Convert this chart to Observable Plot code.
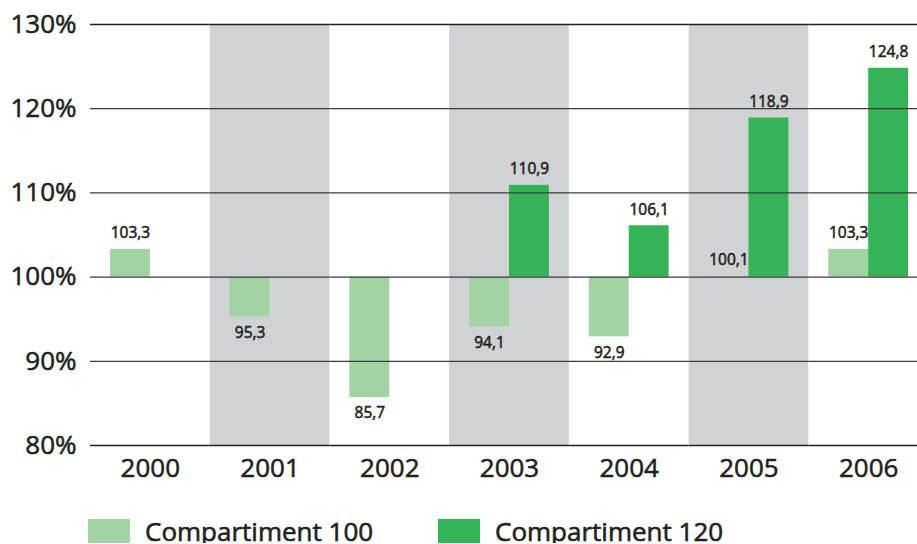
<!DOCTYPE html>
<html>
<head>
<meta charset="utf-8">
<script src="https://cdn.jsdelivr.net/npm/d3@7"></script>
<script src="https://cdn.jsdelivr.net/npm/@observablehq/plot@0.6"></script>
<style>
  html, body { margin: 0; padding: 0; background: #fff; overflow: hidden; }
  #chart svg { overflow: hidden; display: block; }
  #chart svg text { stroke: #231f20; stroke-width: 0.55px; paint-order: stroke; }
  .legend { display: flex; align-items: center; height: 24px; margin-top: 19px; padding-left: 88px;
    font-family: "Open Sans", sans-serif; font-weight: 400; font-size: 26px; color: #231f20; line-height: 24px;
    -webkit-text-stroke: 0.6px #231f20; }
  .item { display: flex; align-items: center; }
  .sw { width: 42px; height: 24px; margin-right: 15px; }
</style>
</head>
<body>
<div id="chart"></div>
<div class="legend">
  <div class="item" style="width:350px"><div class="sw" style="background:#a3d3a4"></div><span>Compartiment 100</span></div>
  <div class="item"><div class="sw" style="background:#34b457"></div><span>Compartiment 120</span></div>
</div>
<script>
const years = ["2000", "2001", "2002", "2003", "2004", "2005", "2006"];
const series = ["Compartiment 100", "Compartiment 120"];
const comp100 = [103.3, 95.3, 85.7, 94.1, 92.9, 100.1, 103.3];
const comp120 = [null, null, null, 110.9, 106.1, 118.9, 124.8];
const shadedYears = ["2001", "2003", "2005"];
const yTicks = [80, 90, 100, 110, 120, 130];
const colors = ["#a3d3a4", "#34b457"];

const data = [];
years.forEach((y, i) => {
  if (comp100[i] != null) data.push({year: y, series: series[0], value: comp100[i]});
  if (comp120[i] != null) data.push({year: y, series: series[1], value: comp120[i]});
});
const fmt = v => v.toFixed(1).replace(".", ",");

const chart = Plot.plot({
  width: 917,
  height: 500,
  marginLeft: 90,
  marginRight: -11,
  marginTop: 24,
  marginBottom: 55,
  style: {fontFamily: "Open Sans, sans-serif", fontSize: "26px", fontWeight: 400, color: "#231f20", background: "#fff"},
  fx: {domain: years, padding: 0, round: false, label: null, tickSize: 0, tickPadding: 13},
  x: {domain: series, paddingInner: 0, paddingOuter: 0.5, round: false, axis: null},
  y: {domain: [80, 130], label: null},
  color: {domain: series, range: colors},
  marks: [
    Plot.barY(shadedYears, {fx: d => d, y1: 80, y2: 130, fill: "#d1d2d4"}),
    Plot.barY(data, {fx: "year", x: "series", y1: 100, y2: "value", fill: "series"}),
    Plot.ruleY([90, 100, 110, 120], {stroke: "#3a3a3a", strokeWidth: 1.3}),
    Plot.ruleY([80, 130], {stroke: "#231f20", strokeWidth: 1.6}),
    Plot.axisY({ticks: yTicks, tickFormat: d => d + "%", tickSize: 0, tickPadding: 14, line: true, stroke: "#231f20", strokeWidth: 1.6, label: null}),
    Plot.text(data.filter(d => d.value >= 100), {fx: "year", x: "series", y: "value", text: d => fmt(d.value), dy: -16, fontSize: 15.5, fill: "#231f20"}),
    Plot.text(data.filter(d => d.value < 100), {fx: "year", x: "series", y: "value", text: d => fmt(d.value), dy: 16, fontSize: 15.5, fill: "#231f20"})
  ]
});
chart.querySelectorAll("text").forEach(t => {
  const fs = parseFloat(getComputedStyle(t).fontSize);
  if (fs < 20) t.style.strokeWidth = "0.3px";
});
document.getElementById("chart").appendChild(chart);
</script>
</body>
</html>
